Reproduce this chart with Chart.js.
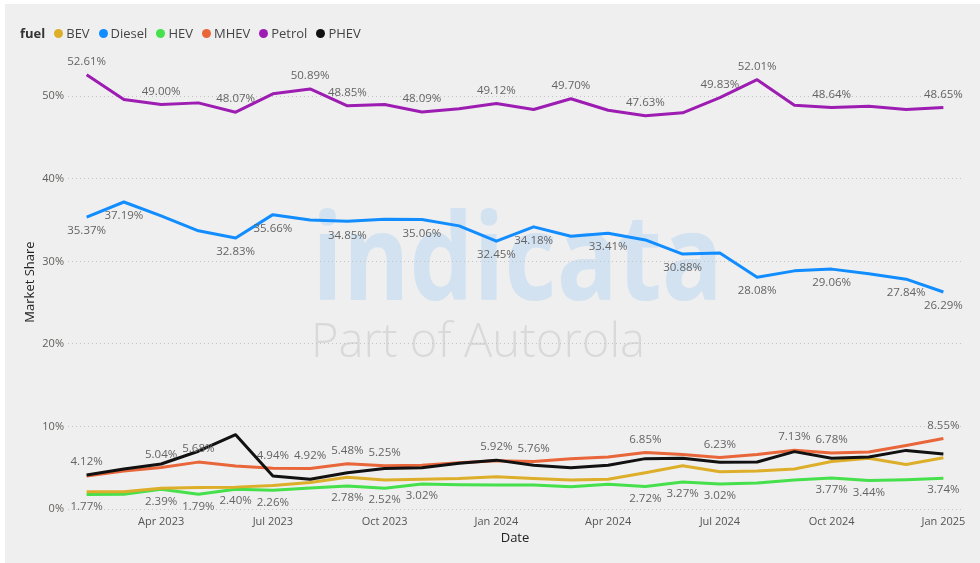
<!DOCTYPE html>
<html>
<head>
<meta charset="utf-8">
<script src="https://cdn.jsdelivr.net/npm/chart.js@4"></script>
<style>
  html, body { margin: 0; padding: 0; background: #fff; }
  #panel { position: absolute; left: 5px; top: 4px; width: 975px; height: 559px; background: #efefef; }
  #wrap { position: absolute; left: 0; top: 0; width: 980px; height: 563px; }
  #legend { position: absolute; left: 20px; top: 23px; height: 20px; display: flex; align-items: center;
    font: 13px "Open Sans", sans-serif; color: #444; white-space: nowrap; }
  #legend b { font-weight: 700; color: #333; margin-right: 9px; }
  .item { display: flex; align-items: center; margin-right: 9px; }
  .dot { width: 9px; height: 9px; border-radius: 50%; margin-right: 3px; }
</style>
</head>
<body>
<div id="panel"></div>
<div id="wrap"><canvas id="chart"></canvas></div>
<div id="legend"></div>
<script>
const dateLabels = ["Feb 2023", "Mar 2023", "Apr 2023", "May 2023", "Jun 2023", "Jul 2023", "Aug 2023", "Sep 2023",
  "Oct 2023", "Nov 2023", "Dec 2023", "Jan 2024", "Feb 2024", "Mar 2024", "Apr 2024", "May 2024",
  "Jun 2024", "Jul 2024", "Aug 2024", "Sep 2024", "Oct 2024", "Nov 2024", "Dec 2024", "Jan 2025"];
const tickLabels = ["Apr 2023", "Jul 2023", "Oct 2023", "Jan 2024", "Apr 2024", "Jul 2024", "Oct 2024", "Jan 2025"];
const yTicks = [0, 10, 20, 30, 40, 50];

const fuels = ["BEV", "Diesel", "HEV", "MHEV", "Petrol", "PHEV"];
const fuelColors = ["#DDAE2A", "#118DFF", "#45E04B", "#E8663A", "#9D1DB2", "#111111"];

const bev = [2.1, 2.1, 2.5, 2.6, 2.65, 2.85, 3.2, 3.85, 3.5, 3.6, 3.7, 3.9, 3.7, 3.5, 3.6, 4.4, 5.25, 4.5, 4.6, 4.85, 5.75, 6.15, 5.4, 6.2];
const diesel = [35.37, 37.19, 35.5, 33.7, 32.83, 35.66, 35.0, 34.85, 35.1, 35.06, 34.3, 32.45, 34.18, 33.05, 33.41, 32.6, 30.88, 31.0, 28.08, 28.85, 29.06, 28.5, 27.84, 26.29];
const hev = [1.77, 1.8, 2.39, 1.79, 2.40, 2.26, 2.55, 2.78, 2.52, 3.02, 2.95, 2.9, 2.9, 2.7, 3.0, 2.72, 3.27, 3.02, 3.15, 3.5, 3.77, 3.44, 3.55, 3.74];
const mhev = [4.0, 4.6, 5.04, 5.68, 5.2, 4.94, 4.92, 5.48, 5.25, 5.3, 5.6, 5.85, 5.76, 6.1, 6.3, 6.85, 6.6, 6.23, 6.6, 7.13, 6.78, 6.9, 7.7, 8.55];
const petrol = [52.61, 49.6, 49.00, 49.2, 48.07, 50.3, 50.89, 48.85, 49.0, 48.09, 48.5, 49.12, 48.4, 49.70, 48.3, 47.63, 48.0, 49.83, 52.01, 48.9, 48.64, 48.8, 48.4, 48.65];
const phev = [4.12, 4.85, 5.45, 7.0, 9.0, 4.0, 3.6, 4.4, 4.9, 5.0, 5.55, 5.92, 5.3, 5.0, 5.3, 6.1, 6.15, 5.65, 5.7, 6.95, 6.15, 6.3, 7.1, 6.65];

// which points carry a data label, and on which side
const petrolLabelIdx = [0, 2, 4, 6, 7, 9, 11, 13, 15, 17, 18, 20, 23];
const dieselLabelIdx = [0, 1, 4, 5, 7, 9, 11, 12, 14, 16, 18, 20, 22, 23];
const mhevLabelIdx = [2, 3, 5, 6, 7, 8, 12, 15, 17, 19, 20, 23];
const phevLabelIdx = [0, 11];
const hevLabelIdx = [0, 2, 3, 4, 5, 7, 8, 9, 15, 16, 17, 20, 21, 23];

const FONT = '"Open Sans", sans-serif';
Chart.defaults.font.family = FONT;

function buildLegend() {
  const el = document.getElementById("legend");
  el.innerHTML = "<b>fuel</b>" + fuels
    .map((f, i) => `<span class="item"><span class="dot" style="background:${fuelColors[i]}"></span>${f}</span>`)
    .join("");
}

const watermark = {
  id: "watermark",
  beforeDraw(chart) {
    const ctx = chart.ctx;
    ctx.save();
    ctx.textBaseline = "alphabetic";
    ctx.textAlign = "left";
    ctx.font = `bold 121px ${FONT}`;
    let w = ctx.measureText("indicata").width;
    ctx.save();
    ctx.translate(312, 300);
    ctx.scale(411 / w, 1);
    ctx.fillStyle = "#d2e2f1";
    ctx.fillText("indicata", 0, 0);
    ctx.restore();
    ctx.font = `300 47px ${FONT}`;
    w = ctx.measureText("Part of Autorola").width;
    ctx.translate(311, 357);
    ctx.scale(334 / w, 1);
    ctx.fillStyle = "#d9d9d9";
    ctx.fillText("Part of Autorola", 0, 0);
    ctx.restore();
  },
};

const labelSpecs = [
  { ds: 4, idx: petrolLabelIdx, dy: -13 },
  { ds: 1, idx: dieselLabelIdx, dy: 14 },
  { ds: 3, idx: mhevLabelIdx, dy: -13 },
  { ds: 5, idx: phevLabelIdx, dy: -13 },
  { ds: 2, idx: hevLabelIdx, dy: 12 },
];

const dataLabels = {
  id: "dataLabels",
  afterDatasetsDraw(chart) {
    const ctx = chart.ctx;
    ctx.save();
    ctx.font = `11.5px ${FONT}`;
    ctx.fillStyle = "#646464";
    ctx.textAlign = "center";
    ctx.textBaseline = "middle";
    labelSpecs.forEach((s) => {
      const meta = chart.getDatasetMeta(s.ds);
      const values = chart.data.datasets[s.ds].data;
      s.idx.forEach((i) => {
        const p = meta.data[i];
        ctx.fillText(values[i].toFixed(2) + "%", p.x, p.y + s.dy);
      });
    });
    ctx.restore();
  },
};

function buildChart() {
  const series = [bev, diesel, hev, mhev, petrol, phev];
  const datasets = series.map((d, i) => ({
    label: fuels[i],
    data: d,
    borderColor: fuelColors[i],
    backgroundColor: fuelColors[i],
    borderWidth: 3,
    pointRadius: 0,
    tension: 0,
    borderJoinStyle: "round",
    order: fuels[i] === "PHEV" ? 0 : 1,
  }));

  new Chart(document.getElementById("chart"), {
    type: "line",
    data: { labels: dateLabels, datasets },
    options: {
      responsive: true,
      maintainAspectRatio: false,
      animation: false,
      layout: { padding: { top: 55, right: 18, bottom: 0, left: 0 } },
      plugins: { legend: { display: false }, tooltip: { enabled: false } },
      scales: {
        x: {
          type: "category",
          offset: true,
          grid: { display: false, drawTicks: false },
          border: { display: false },
          ticks: {
            autoSkip: false,
            maxRotation: 0,
            padding: 6,
            color: "#555",
            font: { size: 11 },
            callback: function (v) {
              const l = this.getLabelForValue(v);
              return tickLabels.includes(l) ? l : "";
            },
          },
          title: { display: true, text: "Date", color: "#252423", font: { size: 13 }, padding: { top: 0, bottom: 17 } },
          afterFit: (s) => { s.height = 54; },
        },
        y: {
          min: 0,
          max: 55,
          afterBuildTicks: (s) => { s.ticks = yTicks.map((v) => ({ value: v })); },
          ticks: { padding: 4, color: "#605e5c", font: { size: 11 }, callback: (v) => v + "%" },
          grid: { color: "#c4c4c4", drawTicks: false, lineWidth: 1 },
          border: { display: false, dash: [1, 3] },
          title: { display: true, text: "Market Share", color: "#252423", font: { size: 13 }, padding: { top: 22, bottom: 0 } },
          afterFit: (s) => { s.width = 68; },
        },
      },
    },
    plugins: [watermark, dataLabels],
  });
}

buildLegend();
buildChart();
</script>
</body>
</html>
